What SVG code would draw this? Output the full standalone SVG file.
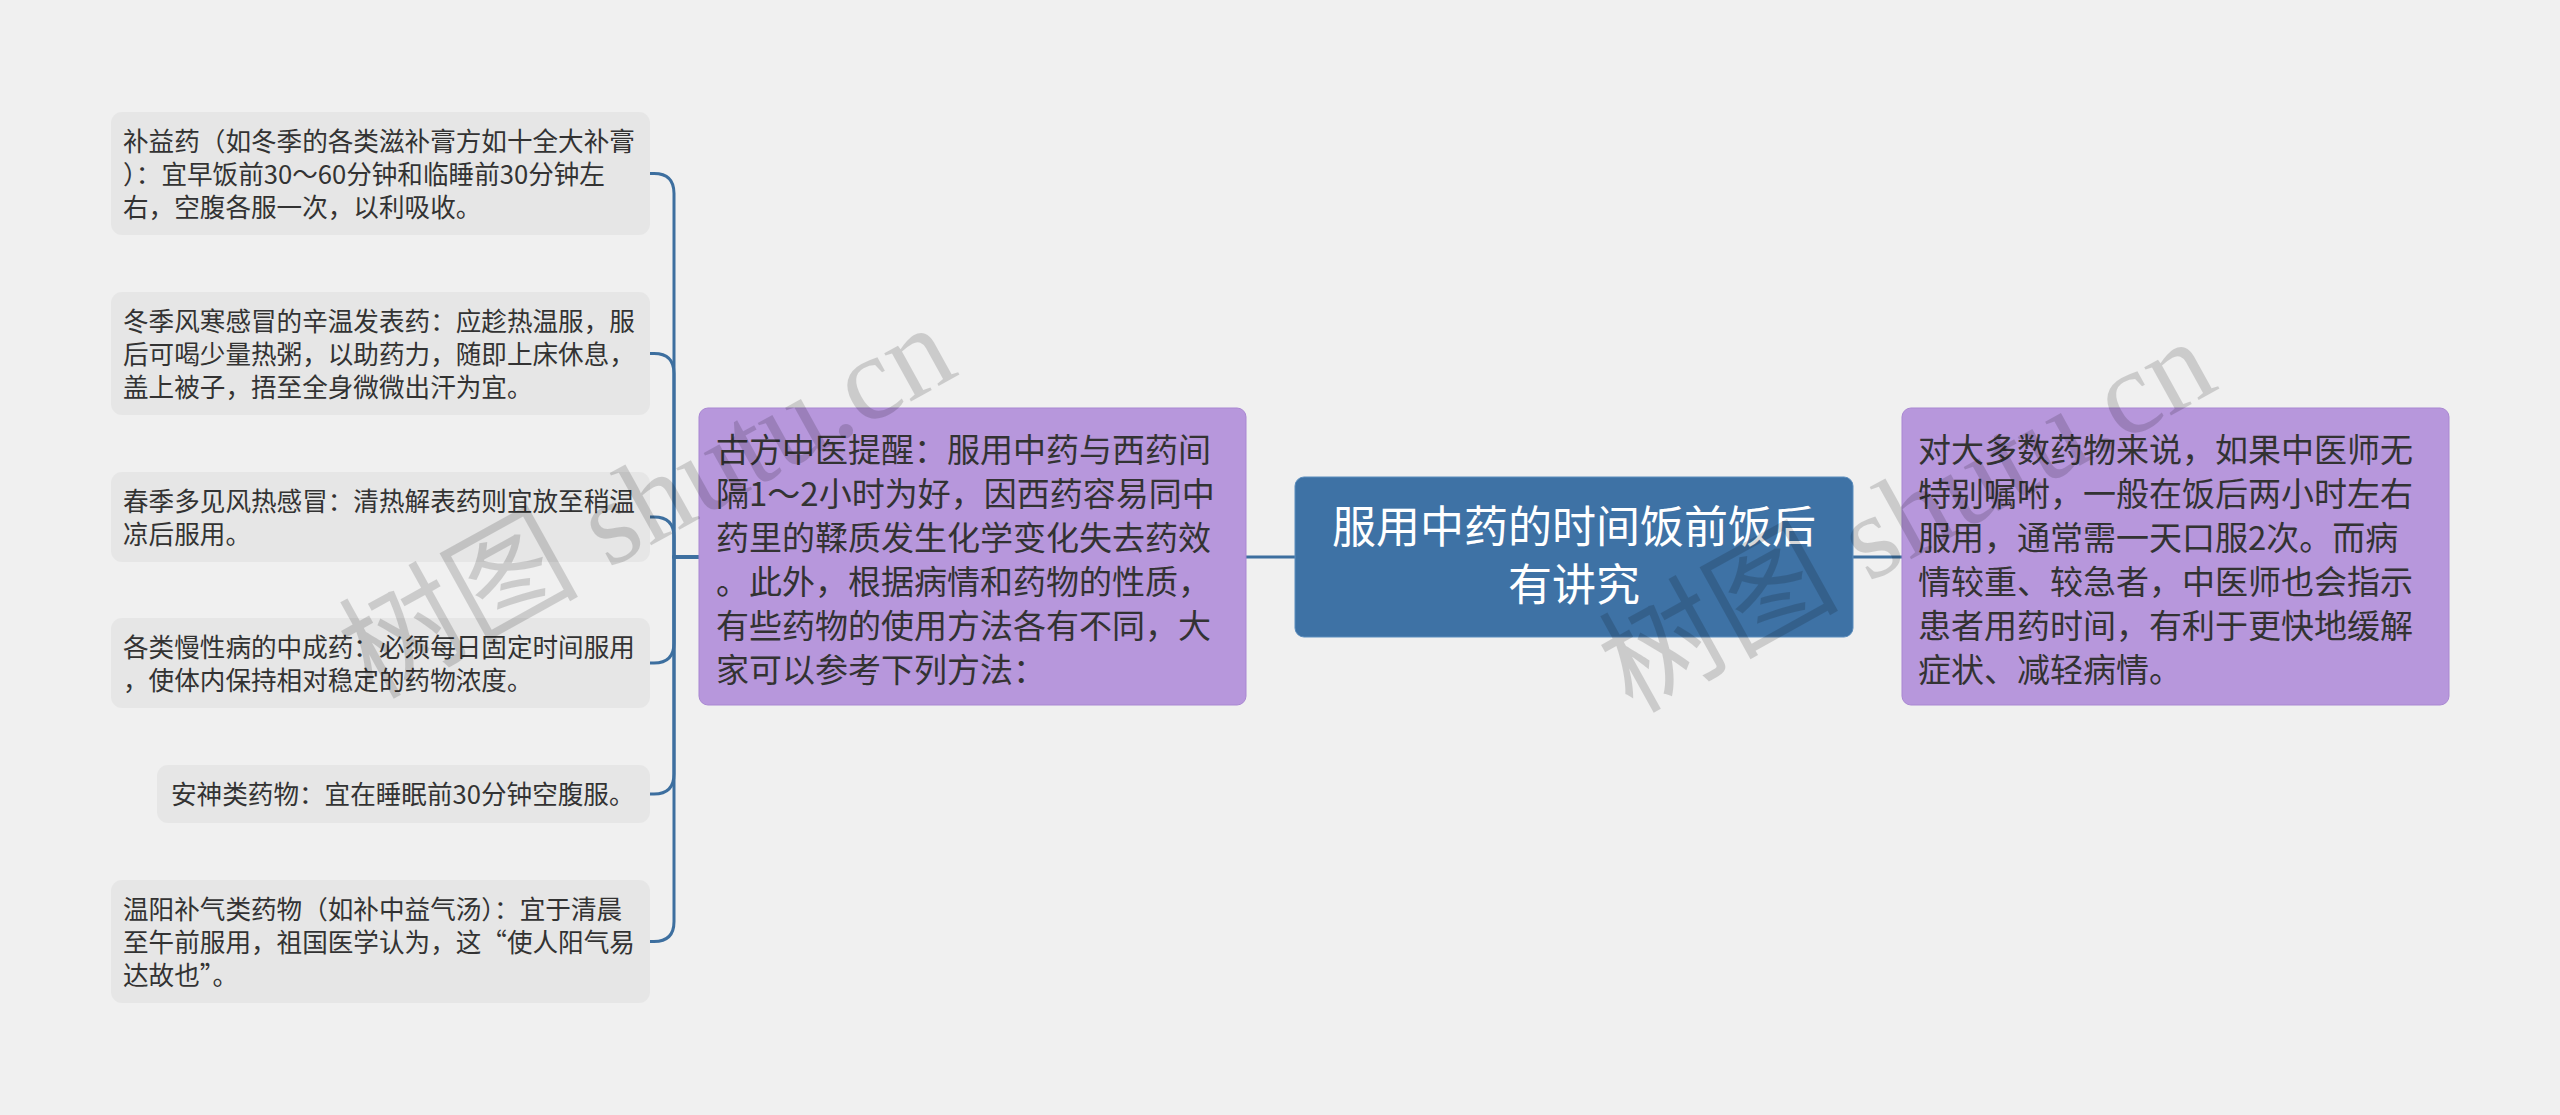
<svg xmlns="http://www.w3.org/2000/svg" width="2560" height="1115" viewBox="0 0 2560 1115">
<style>
.bg{fill:#f0f0f0}
.leaf rect{fill:#e6e6e6}
.leaf text{font-family:"Noto Sans CJK SC","Noto Sans",sans-serif;font-size:25.6px;fill:#333}
.sub rect{fill:#b797dc;stroke:#a987d2;stroke-width:1}
.sub text{font-family:"Noto Sans CJK SC","Noto Sans",sans-serif;font-size:33px;fill:#333}
.root rect{fill:#3e72a5;stroke:#5b8dbd;stroke-width:1}
.root text{font-family:"Noto Sans CJK SC","Noto Sans",sans-serif;font-size:44px;fill:#fff;text-anchor:middle}
.conn path{fill:none;stroke:#3d6f9f;stroke-width:3}
.wm{font-family:"Liberation Serif","Noto Sans CJK SC",serif;font-size:120px;fill:#000;opacity:0.15}
</style>
<rect class="bg" x="0" y="0" width="2560" height="1115"/>
<g id="connectors" class="conn">
<path d="M1295 557 H1246"/>
<path d="M1853 557 H1902"/>
<path d="M699 557 H674 V193.5 Q674 173.5 654 173.5 H650"/>
<path d="M699 557 H674 V373.5 Q674 353.5 654 353.5 H650"/>
<path d="M699 557 H674 V537 Q674 517 654 517 H650"/>
<path d="M699 557 H674 V643 Q674 663 654 663 H650"/>
<path d="M699 557 H674 V774 Q674 794 654 794 H650"/>
<path d="M699 557 H674 V921.5 Q674 941.5 654 941.5 H650"/>
</g>
<g id="root" class="root">
<rect x="1295" y="477" width="558" height="160" rx="9"/>
<text x="1574" y="543">服用中药的时间饭前饭后</text>
<text x="1574" y="601">有讲究</text>
</g>
<g id="sub-left" class="sub">
<rect x="699" y="408" width="547" height="297" rx="9"/>
<text x="716" y="462">古方中医提醒：服用中药与西药间</text>
<text x="716" y="506">隔1～2小时为好，因西药容易同中</text>
<text x="716" y="550">药里的鞣质发生化学变化失去药效</text>
<text x="716" y="594">。此外，根据病情和药物的性质，</text>
<text x="716" y="638">有些药物的使用方法各有不同，大</text>
<text x="716" y="682">家可以参考下列方法：</text>
</g>
<g id="sub-right" class="sub">
<rect x="1902" y="408" width="547" height="297" rx="9"/>
<text x="1918" y="462">对大多数药物来说，如果中医师无</text>
<text x="1918" y="506">特别嘱咐，一般在饭后两小时左右</text>
<text x="1918" y="550">服用，通常需一天口服2次。而病</text>
<text x="1918" y="594">情较重、较急者，中医师也会指示</text>
<text x="1918" y="638">患者用药时间，有利于更快地缓解</text>
<text x="1918" y="682">症状、减轻病情。</text>
</g>
<g id="leaf1" class="leaf">
<rect x="111" y="112" width="539" height="123" rx="11"/>
<text x="123" y="150.5">补益药（如冬季的各类滋补膏方如十全大补膏</text>
<text x="123" y="183.5">）：宜早饭前30～60分钟和临睡前30分钟左</text>
<text x="123" y="216.5">右，空腹各服一次，以利吸收。</text>
</g>
<g id="leaf2" class="leaf">
<rect x="111" y="292" width="539" height="123" rx="11"/>
<text x="123" y="330.5">冬季风寒感冒的辛温发表药：应趁热温服，服</text>
<text x="123" y="363.5">后可喝少量热粥，以助药力，随即上床休息，</text>
<text x="123" y="396.5">盖上被子，捂至全身微微出汗为宜。</text>
</g>
<g id="leaf3" class="leaf">
<rect x="111" y="472" width="539" height="90" rx="11"/>
<text x="123" y="510.5">春季多见风热感冒：清热解表药则宜放至稍温</text>
<text x="123" y="543.5">凉后服用。</text>
</g>
<g id="leaf4" class="leaf">
<rect x="111" y="618" width="539" height="90" rx="11"/>
<text x="123" y="656.5">各类慢性病的中成药：必须每日固定时间服用</text>
<text x="123" y="689.5">，使体内保持相对稳定的药物浓度。</text>
</g>
<g id="leaf5" class="leaf">
<rect x="157" y="765" width="493" height="58" rx="11"/>
<text x="171" y="804">安神类药物：宜在睡眠前30分钟空腹服。</text>
</g>
<g id="leaf6" class="leaf">
<rect x="111" y="880" width="539" height="123" rx="11"/>
<text x="123" y="918.5">温阳补气类药物（如补中益气汤）：宜于清晨</text>
<text x="123" y="951.5">至午前服用，祖国医学认为，这“使人阳气易</text>
<text x="123" y="984.5">达故也”。</text>
</g>
<text class="wm" transform="translate(372 700) rotate(-29)">树图 shutu.cn</text>
<text class="wm" transform="translate(1632 714) rotate(-29)">树图 shutu.cn</text>
</svg>
